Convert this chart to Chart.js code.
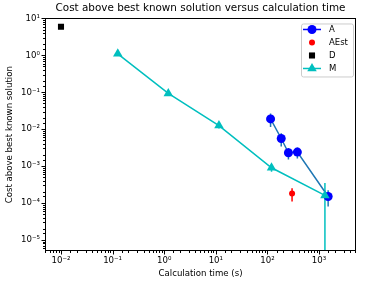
<!DOCTYPE html>
<html>
<head>
<meta charset="utf-8">
<script src="https://cdn.jsdelivr.net/npm/chart.js@4"></script>
<style>
  html, body { margin: 0; padding: 0; background: #fff; }
  #wrap { width: 365px; height: 285px; }
</style>
</head>
<body>
<div id="wrap"><canvas id="chart" width="365" height="285"></canvas></div>
<script>
// values (log-log axes)
const aTime = [115, 185, 255, 380, 1500];
const aCost = [0.019, 0.0056, 0.0023, 0.0024, 0.00015];
const aErr = [0.0076, 0.0022, 0.0008, 0.0008, 0.00007];

const aEstTime = [300];
const aEstCost = [0.00018];
const aEstErr = [0.00007];

const dTime = [0.01];
const dCost = [6];

const mTime = [0.126, 1.2, 11.5, 120, 1300];
const mCost = [1.1, 0.093, 0.0125, 0.0009, 0.00016];
const mErr = [0.12, 0.012, 0.002, 0.0002, 0.00019];

const xRange = [0.0049, 5200];
const yRange = [5.0e-6, 10];

const toPoints = (xs, ys) => xs.map((x, i) => ({ x: x, y: ys[i] }));

const sup = { '-': '\u207B', '0': '\u2070', '1': '\u00B9', '2': '\u00B2', '3': '\u00B3',
    '4': '\u2074', '5': '\u2075', '6': '\u2076', '7': '\u2077', '8': '\u2078', '9': '\u2079' };

function isDecade(v) {
    const l = Math.log10(v);
    return Math.abs(l - Math.round(l)) < 1e-9;
}

function powLabel(v) {
    if (!isDecade(v)) return '';
    const e = String(Math.round(Math.log10(v)));
    return '10' + e.split('').map(c => sup[c]).join('');
}

// vertical error bars, drawn under the markers
const errorBars = {
    id: 'errorBars',
    beforeDatasetsDraw(chart) {
        const ctx = chart.ctx;
        const area = chart.chartArea;
        const xs = chart.scales.x, ys = chart.scales.y;
        ctx.save();
        ctx.beginPath();
        ctx.rect(area.left, area.top, area.right - area.left, area.bottom - area.top);
        ctx.clip();
        chart.data.datasets.forEach(ds => {
            if (!ds.errors) return;
            ctx.strokeStyle = ds.errorColor;
            ctx.lineWidth = 1.5;
            ds.data.forEach((p, i) => {
                const px = xs.getPixelForValue(p.x);
                const hi = ys.getPixelForValue(p.y + ds.errors[i]);
                const lo = p.y - ds.errors[i] > 0 ? ys.getPixelForValue(p.y - ds.errors[i]) : area.bottom;
                ctx.beginPath();
                ctx.moveTo(px, hi);
                ctx.lineTo(px, lo);
                ctx.stroke();
            });
        });
        ctx.restore();
    }
};

// frame, tick marks and the legend box
const frame = {
    id: 'frame',
    afterDraw(chart) {
        const ctx = chart.ctx;
        const a = chart.chartArea;
        ctx.save();
        ctx.strokeStyle = '#000';
        ctx.lineWidth = 1;
        ctx.strokeRect(Math.round(a.left) + 0.5, Math.round(a.top) + 0.5,
            Math.round(a.right - a.left) - 1, Math.round(a.bottom - a.top) - 1);

        chart.scales.x.ticks.forEach(t => {
            const px = Math.round(chart.scales.x.getPixelForValue(t.value)) + 0.5;
            if (px < a.left || px > a.right) return;
            const len = isDecade(t.value) ? 3.5 : 2;
            ctx.beginPath();
            ctx.moveTo(px, a.bottom);
            ctx.lineTo(px, a.bottom + len);
            ctx.stroke();
        });
        chart.scales.y.ticks.forEach(t => {
            const py = Math.round(chart.scales.y.getPixelForValue(t.value)) + 0.5;
            if (py < a.top || py > a.bottom) return;
            const len = isDecade(t.value) ? 3.5 : 2;
            ctx.beginPath();
            ctx.moveTo(a.left, py);
            ctx.lineTo(a.left - len, py);
            ctx.stroke();
        });

        // legend
        const bx = a.right - 55, by = a.top + 5, bw = 52, bh = 53;
        ctx.fillStyle = 'rgba(255,255,255,0.8)';
        ctx.strokeStyle = '#cccccc';
        ctx.lineWidth = 1;
        ctx.beginPath();
        ctx.roundRect(bx + 0.5, by + 0.5, bw, bh, 2);
        ctx.fill();
        ctx.stroke();
        ctx.font = '8.5px "DejaVu Sans"';
        ctx.textBaseline = 'middle';
        chart.data.datasets.forEach((ds, i) => {
            const ry = by + 6 + i * 13;
            const mx = bx + 11;
            if (ds.showLine) {
                ctx.strokeStyle = ds.legendLine;
                ctx.lineWidth = 1.5;
                ctx.beginPath();
                ctx.moveTo(bx + 2, ry);
                ctx.lineTo(bx + 20, ry);
                ctx.stroke();
            }
            ctx.fillStyle = ds.pointBackgroundColor;
            ctx.strokeStyle = ds.pointBackgroundColor;
            Chart.helpers.drawPoint(ctx, {
                pointStyle: ds.pointStyle, radius: ds.pointRadius, rotation: 0, borderWidth: 0
            }, mx, ry);
            ctx.fillStyle = '#000';
            ctx.fillText(ds.label, bx + 28, ry + 0.5);
        });
        ctx.restore();
    }
};

const tickFont = { family: 'DejaVu Sans', size: 8.6 };

new Chart(document.getElementById('chart'), {
    type: 'scatter',
    data: {
        datasets: [
            {
                label: 'A',
                data: toPoints(aTime, aCost),
                errors: aErr,
                errorColor: '#1f77b4',
                showLine: true,
                borderColor: '#1f77b4',
                legendLine: '#0000ff',
                borderWidth: 1.5,
                pointStyle: 'circle',
                pointRadius: 4.5,
                pointBackgroundColor: '#0000ff',
                pointBorderWidth: 0,
                order: 3
            },
            {
                label: 'AEst',
                data: toPoints(aEstTime, aEstCost),
                errors: aEstErr,
                errorColor: '#ff0000',
                showLine: false,
                pointStyle: 'circle',
                pointRadius: 3,
                pointBackgroundColor: '#ff0000',
                pointBorderWidth: 0,
                order: 2
            },
            {
                label: 'D',
                data: toPoints(dTime, dCost),
                showLine: false,
                pointStyle: 'rect',
                pointRadius: 4.3,
                pointBackgroundColor: '#000000',
                pointBorderWidth: 0,
                order: 1
            },
            {
                label: 'M',
                data: toPoints(mTime, mCost),
                errors: mErr,
                errorColor: '#00bfbf',
                showLine: true,
                borderColor: '#00bfbf',
                legendLine: '#00bfbf',
                borderWidth: 1.5,
                pointStyle: 'triangle',
                pointRadius: 5.5,
                pointBackgroundColor: '#00bfbf',
                pointBorderWidth: 0,
                order: 0
            }
        ]
    },
    options: {
        responsive: false,
        animation: false,
        layout: { padding: { right: 9 } },
        plugins: {
            legend: { display: false },
            tooltip: { enabled: false },
            title: {
                display: true,
                fullSize: false,
                text: 'Cost above best known solution versus calculation time',
                color: '#000',
                font: { family: 'DejaVu Sans', size: 10.4, weight: 'normal' },
                padding: { top: 2, bottom: 4 }
            }
        },
        scales: {
            x: {
                type: 'logarithmic',
                min: xRange[0],
                max: xRange[1],
                grid: { display: false, drawTicks: false },
                border: { display: false },
                ticks: {
                    autoSkip: false,
                    maxRotation: 0,
                    padding: 5,
                    color: '#000',
                    font: tickFont,
                    callback: v => powLabel(v)
                },
                title: {
                    display: true,
                    text: 'Calculation time (s)',
                    color: '#000',
                    font: tickFont,
                    padding: { top: 0, bottom: 6 }
                },
                afterFit: s => { s.height = 34; }
            },
            y: {
                type: 'logarithmic',
                min: yRange[0],
                max: yRange[1],
                grid: { display: false, drawTicks: false },
                border: { display: false },
                ticks: {
                    autoSkip: false,
                    padding: 5,
                    color: '#000',
                    font: tickFont,
                    callback: v => powLabel(v)
                },
                title: {
                    display: true,
                    text: 'Cost above best known solution',
                    color: '#000',
                    font: tickFont,
                    padding: { top: 5, bottom: 0 }
                },
                afterFit: s => { s.width = 45; }
            }
        }
    },
    plugins: [errorBars, frame]
});
</script>
</body>
</html>
